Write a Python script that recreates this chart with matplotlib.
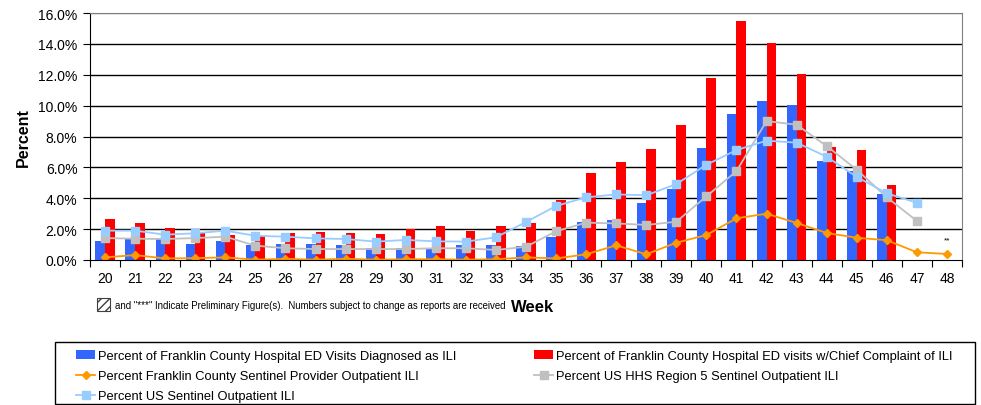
import numpy as np
import matplotlib
matplotlib.use("Agg")
import matplotlib.pyplot as plt
from matplotlib.patches import Rectangle

plt.rcParams['font.family'] = ['Liberation Sans', 'DejaVu Sans']

weeks = [str(w) for w in range(20, 49)]
nan = np.nan
ed_diag = [1.25, 1.42, 1.36, 1.04, 1.25, 0.99, 1.04, 1.04, 0.97, 0.80,
           0.78, 0.71, 0.97, 0.97, 0.88, 1.51, 2.48, 2.61, 3.71, 4.62,
           7.25, 9.46, 10.30, 10.04, 6.41, 5.74, 4.27, nan, nan]
ed_cc = [2.65, 2.40, 2.07, 1.79, 1.62, 1.57, 1.73, 1.79, 1.73, 1.68,
         2.00, 2.20, 1.88, 2.20, 2.40, 3.89, 5.63, 6.35, 7.19, 8.74,
         11.79, 15.48, 14.05, 12.02, 7.32, 7.12, 4.86, nan, nan]
fc_sentinel = [0.17, 0.32, 0.10, 0.12, 0.17, 0.02, 0.08, 0.02, 0.08, 0.02,
               0.05, 0.05, 0.02, 0.05, 0.17, 0.10, 0.37, 0.95, 0.37, 1.12,
               1.62, 2.70, 3.00, 2.40, 1.75, 1.44, 1.28, 0.50, 0.39]
region5 = [1.42, 1.38, 1.36, 1.42, 1.51, 0.93, 0.76, 0.71, 0.71, 0.71,
           0.71, 0.76, 0.76, 0.65, 0.86, 1.86, 2.42, 2.37, 2.27, 2.48,
           4.12, 5.76, 9.00, 8.76, 7.38, 5.85, 4.06, 2.53, nan]
us_sentinel = [1.90, 1.90, 1.64, 1.73, 1.90, 1.57, 1.51, 1.40, 1.36, 1.19,
               1.30, 1.21, 1.19, 1.47, 2.46, 3.50, 4.06, 4.25, 4.19, 4.92,
               6.17, 7.12, 7.73, 7.60, 6.69, 5.38, 4.32, 3.71, nan]
yticks = [0, 2, 4, 6, 8, 10, 12, 14, 16]

W, H = 981, 406
fig = plt.figure(figsize=(W / 100, H / 100), dpi=100)
ax = fig.add_axes([90 / W, 1 - 261 / H, (962 - 90) / W, (261 - 14) / H])

x = np.arange(len(weeks))
bw = 0.32
ax.bar(x - bw / 2, ed_diag, width=bw, color='#3366FF', zorder=2,
       label='Percent of Franklin County Hospital ED Visits Diagnosed as ILI')
ax.bar(x + bw / 2, ed_cc, width=bw, color='#FF0000', zorder=2,
       label='Percent of Franklin County Hospital ED visits w/Chief Complaint of ILI')
l_or, = ax.plot(x, fc_sentinel, color='#FF9900', marker='D', markersize=4, lw=1.3,
                zorder=4, label='Percent Franklin County Sentinel Provider Outpatient ILI')
l_gr, = ax.plot(x, region5, color='#C0C0C0', marker='s', markersize=5.5, lw=1.3,
                zorder=3, label='Percent US HHS Region 5 Sentinel Outpatient ILI')
l_lb, = ax.plot(x, us_sentinel, color='#99CCFF', marker='s', markersize=5.5, lw=1.3,
                zorder=3.5, label='Percent US Sentinel Outpatient ILI')

ax.set_xlim(-0.5, len(weeks) - 0.5)
ax.set_ylim(0, 16)
ax.set_yticks(yticks)
ax.set_yticklabels([f'{v:.1f}%' for v in yticks], fontsize=10)
for v in yticks[1:]:
    ax.axhline(v, color='black' if v < 16 else '#808080', lw=1.0, zorder=1)

ax.set_xticks(np.arange(len(weeks) + 1) - 0.5)
ax.set_xticklabels([])
ax.set_xticks(x, minor=True)
ax.set_xticklabels(weeks, minor=True, fontsize=10)
ax.tick_params(axis='x', which='major', direction='out', length=5, color='black')
ax.tick_params(axis='x', which='minor', length=0, pad=8)
ax.tick_params(axis='y', direction='out', length=5, pad=4)

for s in ['top', 'right']:
    ax.spines[s].set_color('#808080')
ax.spines['left'].set_color('black')
ax.spines['bottom'].set_color('black')
ax.spines['bottom'].set_zorder(5)

ax.set_ylabel('Percent', fontsize=11.5, fontweight='bold', labelpad=5)

ax.text(28, 1.1, '**', fontsize=6, ha='center', va='bottom')

# note + Week label
fig.patches.append(Rectangle((97 / W, 1 - 312 / H), 13 / W, 13 / H, transform=fig.transFigure,
                             facecolor='white', edgecolor='#404040', hatch='////', lw=0.8))
fig.text(115 / W, 1 - 306 / H,
         'and "***" Indicate Preliminary Figure(s).  Numbers subject to change as reports are received',
         fontsize=6.9, va='center', ha='left')
fig.text(533 / W, 1 - 308 / H, 'Week', fontsize=12, fontweight='bold', ha='center', va='center')

# legend frame
fig.patches.append(Rectangle((55 / W, 1 - 405 / H), 920 / W, 62 / H, transform=fig.transFigure,
                             facecolor='white', edgecolor='black', lw=1.0, zorder=0))
bars = ax.containers
handles = [bars[0], l_or, l_lb, bars[1], l_gr]
labels = [h.get_label() for h in handles]
fs = 9.3
leg = fig.legend(handles, labels, loc='upper left', ncol=2,
                 bbox_to_anchor=(76 / W, 1 - 351 / H),
                 fontsize=fs, frameon=False,
                 handlelength=1.5, handletextpad=0.2, labelspacing=0.62,
                 columnspacing=6.0, borderpad=0, borderaxespad=0)

fig.savefig('out.png', dpi=100)
